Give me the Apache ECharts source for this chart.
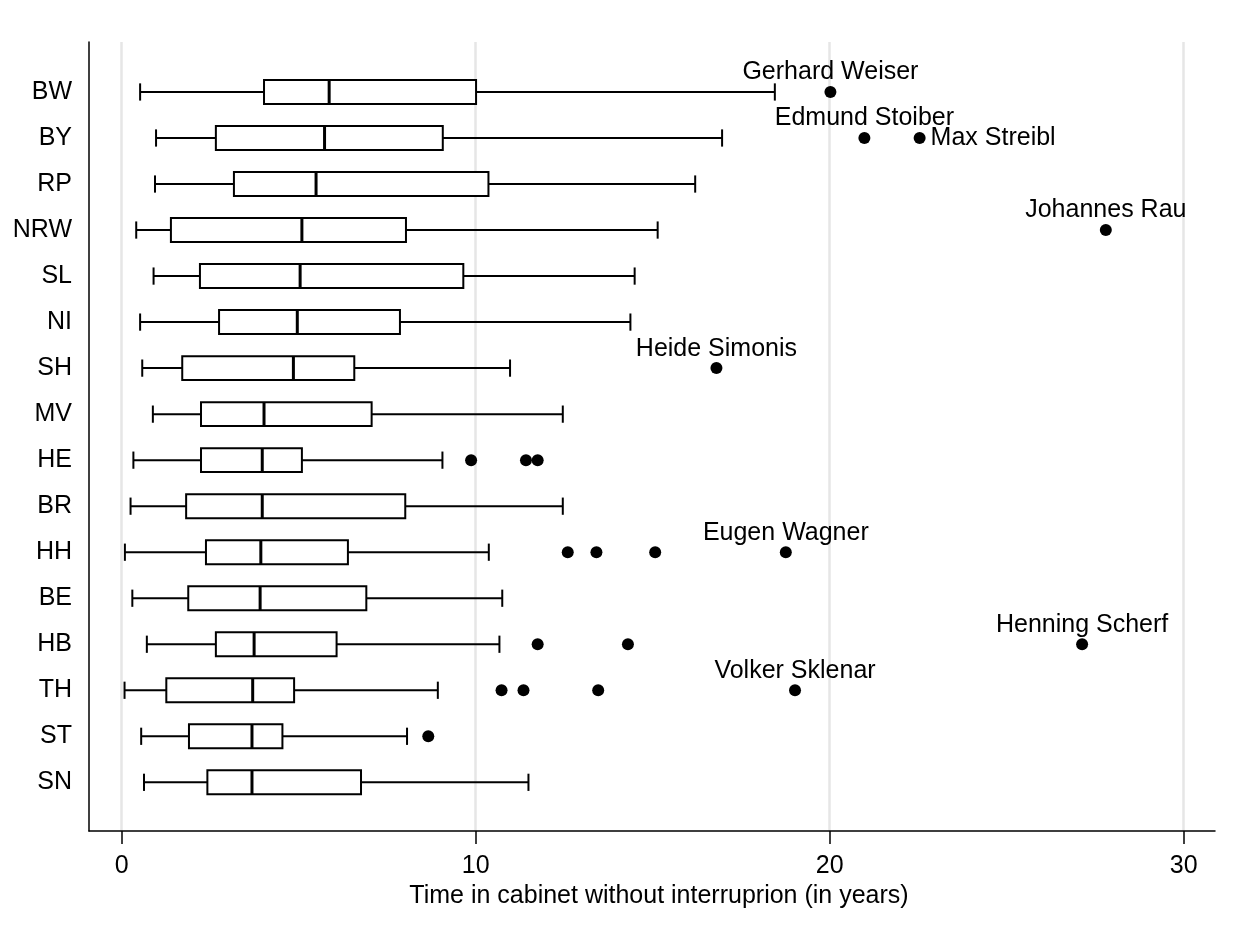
<!DOCTYPE html>
<html>
<head>
<meta charset="utf-8">
<title>Time in cabinet</title>
<script src="https://cdn.jsdelivr.net/npm/echarts@6/dist/echarts.min.js"></script>
<style>
  html, body { margin: 0; padding: 0; background: #fff; }
  #chart { width: 1242px; height: 935px; }
</style>
</head>
<body>
<div id="chart"></div>
<script>
// states, top to bottom
const states = ['BW', 'BY', 'RP', 'NRW', 'SL', 'NI', 'SH', 'MV', 'HE', 'BR', 'HH', 'BE', 'HB', 'TH', 'ST', 'SN']
// box statistics (years)
const whiskerLow = [0.52, 0.97, 0.94, 0.41, 0.90, 0.52, 0.58, 0.88, 0.33, 0.25, 0.09, 0.30, 0.71, 0.08, 0.55, 0.63]
const quartile1 = [4.02, 2.66, 3.17, 1.39, 2.21, 2.75, 1.71, 2.24, 2.24, 1.82, 2.38, 1.88, 2.66, 1.26, 1.90, 2.42]
const median = [5.86, 5.73, 5.49, 5.09, 5.04, 4.96, 4.85, 4.02, 3.97, 3.97, 3.93, 3.91, 3.74, 3.70, 3.68, 3.68]
const quartile3 = [10.01, 9.07, 10.36, 8.03, 9.65, 7.86, 6.57, 7.06, 5.09, 8.01, 6.39, 6.91, 6.07, 4.87, 4.54, 6.76]
const whiskerHigh = [18.45, 16.96, 16.2, 15.14, 14.49, 14.37, 10.97, 12.46, 9.06, 12.46, 10.37, 10.75, 10.67, 8.93, 8.06, 11.49]
// outside values
const outlierState = ['BW', 'BY', 'BY', 'NRW', 'SH', 'HE', 'HE', 'HE', 'HH', 'HH', 'HH', 'HH', 'HB', 'HB', 'HB', 'TH', 'TH', 'TH', 'TH', 'ST']
const outlierValue = [20.02, 20.98, 22.54, 27.8, 16.8, 9.87, 11.42, 11.75, 12.6, 13.41, 15.07, 18.76, 11.75, 14.3, 27.13, 10.73, 11.35, 13.46, 19.02, 8.66]
const outlierName = ['Gerhard Weiser', 'Edmund Stoiber', 'Max Streibl', 'Johannes Rau', 'Heide Simonis', '', '', '', '', '', '', 'Eugen Wagner', '', '', 'Henning Scherf', '', '', '', 'Volker Sklenar', '']
const xTicks = [0, 10, 20, 30]

const FONT = '"Liberation Sans", Arial, sans-serif'
const labelRight = ['Max Streibl']

const boxData = states.map((s, i) => [i, whiskerLow[i], quartile1[i], median[i], quartile3[i], whiskerHigh[i]])
const outlierData = outlierValue.map((v, k) => {
  const name = outlierName[k]
  const item = { value: [v, states.indexOf(outlierState[k])], name: name }
  if (name) {
    const right = labelRight.indexOf(name) >= 0
    item.label = {
      show: true,
      position: right ? 'right' : 'top',
      distance: right ? 5 : 1,
      color: '#000',
      fontSize: 25,
      fontFamily: FONT,
      formatter: name
    }
  }
  return item
})

function renderBox(params, api) {
  const i = api.value(0)
  const lo = api.coord([api.value(1), i])
  const q1 = api.coord([api.value(2), i])
  const md = api.coord([api.value(3), i])
  const q3 = api.coord([api.value(4), i])
  const hi = api.coord([api.value(5), i])
  const band = api.size([0, 1])[1]
  const h = band * 0.52
  const cap = h * 0.36
  const y = lo[1]
  const line = { stroke: '#000', lineWidth: 2 }
  return {
    type: 'group',
    children: [
      { type: 'line', shape: { x1: lo[0], y1: y, x2: q1[0], y2: y }, style: line },
      { type: 'line', shape: { x1: q3[0], y1: y, x2: hi[0], y2: y }, style: line },
      { type: 'line', shape: { x1: lo[0], y1: y - cap, x2: lo[0], y2: y + cap }, style: line },
      { type: 'line', shape: { x1: hi[0], y1: y - cap, x2: hi[0], y2: y + cap }, style: line },
      { type: 'rect', shape: { x: q1[0], y: y - h / 2, width: q3[0] - q1[0], height: h }, style: { fill: '#fff', stroke: '#000', lineWidth: 2 } },
      { type: 'line', shape: { x1: md[0], y1: y - h / 2, x2: md[0], y2: y + h / 2 }, style: { stroke: '#000', lineWidth: 3 } }
    ]
  }
}

const chart = echarts.init(document.getElementById('chart'))
chart.setOption({
  animation: false,
  textStyle: { fontFamily: FONT },
  grid: { left: 89, right: 27, top: 42, bottom: 104 },
  xAxis: {
    type: 'value',
    min: -0.924,
    max: 30.884,
    name: 'Time in cabinet without interruprion (in years)',
    nameLocation: 'middle',
    nameGap: 48,
    nameTextStyle: { color: '#000', fontSize: 25, fontFamily: FONT, padding: [0, 0, 0, 14] },
    axisLine: { show: true, onZero: false, lineStyle: { color: '#000', width: 1.5 } },
    axisTick: { show: true, length: 13, customValues: xTicks, lineStyle: { color: '#000', width: 1.5 } },
    axisLabel: { customValues: xTicks, color: '#000', fontSize: 25, margin: 23, fontFamily: FONT },
    splitLine: { show: true, lineStyle: { color: '#e6e6e6', width: 2.5 } }
  },
  yAxis: {
    type: 'value',
    inverse: true,
    min: -1.086,
    max: 16.058,
    axisLine: { show: true, onZero: false, lineStyle: { color: '#000', width: 1.5 } },
    axisTick: { show: false },
    splitLine: { show: false },
    axisLabel: {
      customValues: states.map((s, i) => i),
      formatter: v => states[v],
      color: '#000',
      fontSize: 25,
      margin: 17,
      fontFamily: FONT
    }
  },
  series: [
    {
      type: 'custom',
      renderItem: renderBox,
      encode: { x: [1, 2, 3, 4, 5], y: 0 },
      data: boxData
    },
    {
      type: 'scatter',
      symbol: 'circle',
      symbolSize: 12,
      itemStyle: { color: '#000', opacity: 1 },
      label: { color: '#000', fontSize: 25, fontFamily: FONT },
      data: outlierData
    }
  ]
})
</script>
</body>
</html>
